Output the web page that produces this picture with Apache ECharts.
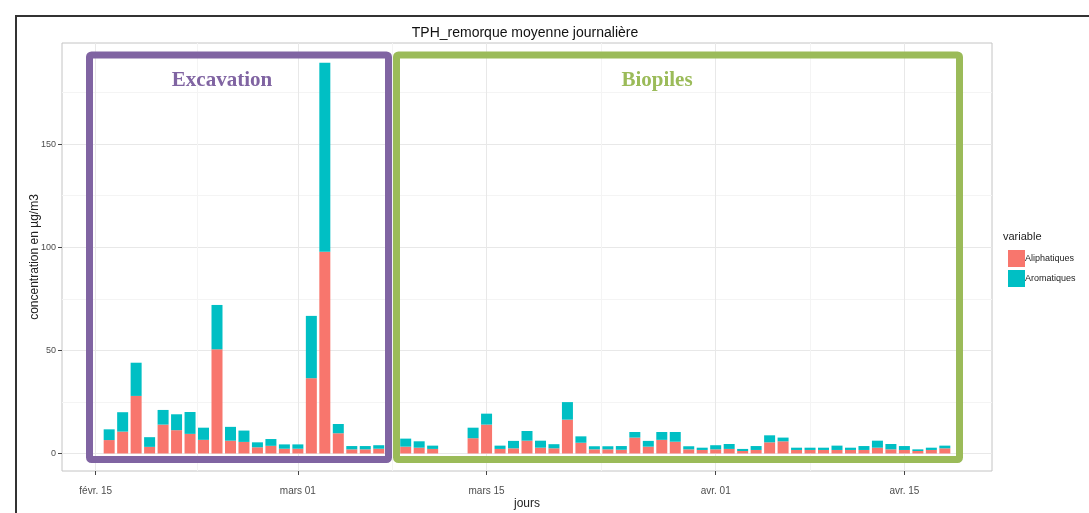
<!DOCTYPE html>
<html>
<head>
<meta charset="utf-8">
<title>TPH_remorque moyenne journalière</title>
<script src="https://cdn.jsdelivr.net/npm/echarts@6/dist/echarts.min.js"></script>
<style>
  html, body { margin: 0; padding: 0; background: #fff; }
  #chart { width: 1089px; height: 513px; }
</style>
</head>
<body>
<div id="chart"></div>
<script>
// moyennes journalières TPH remorque (µg/m3)
const jours = [
  '2016-02-16', '2016-02-17', '2016-02-18', '2016-02-19', '2016-02-20', '2016-02-21',
  '2016-02-22', '2016-02-23', '2016-02-24', '2016-02-25', '2016-02-26', '2016-02-27',
  '2016-02-28', '2016-02-29', '2016-03-01', '2016-03-02', '2016-03-03', '2016-03-04',
  '2016-03-05', '2016-03-06', '2016-03-07',
  '2016-03-09', '2016-03-10', '2016-03-11', '2016-03-14', '2016-03-15', '2016-03-16',
  '2016-03-17', '2016-03-18', '2016-03-19', '2016-03-20', '2016-03-21', '2016-03-22',
  '2016-03-23', '2016-03-24', '2016-03-25', '2016-03-26', '2016-03-27', '2016-03-28',
  '2016-03-29', '2016-03-30', '2016-03-31', '2016-04-01', '2016-04-02', '2016-04-03',
  '2016-04-04', '2016-04-05', '2016-04-06', '2016-04-07', '2016-04-08', '2016-04-09',
  '2016-04-10', '2016-04-11', '2016-04-12', '2016-04-13', '2016-04-14', '2016-04-15',
  '2016-04-16', '2016-04-17', '2016-04-18'
]
const aliphatiques = [
  6.5, 10.6, 27.9, 3.2, 14, 11.3,
  9.5, 6.6, 50.5, 6.2, 5.6, 3,
  3.7, 2.3, 2.3, 36.5, 97.8, 9.8,
  2, 2, 2.3,
  3.3, 2.8, 2.2, 7.4, 14, 2.2,
  2.5, 6.2, 2.8, 2.5, 16.4, 5.2,
  2, 2, 1.8, 7.7, 3.3, 6.6,
  5.7, 2, 1.7, 2, 2.2, 1.2,
  1.7, 5.4, 5.9, 1.7, 1.7, 1.7,
  1.7, 1.7, 1.7, 2.8, 2, 1.7,
  1.2, 1.7, 2.5
]
const aromatiques = [
  5.2, 9.4, 16.1, 4.7, 7.1, 7.7,
  10.6, 5.9, 21.5, 6.7, 5.5, 2.4,
  3.3, 2.1, 2.1, 30.2, 91.6, 4.5,
  1.6, 1.6, 1.7,
  3.9, 3.1, 1.6, 5.1, 5.3, 1.6,
  3.6, 4.7, 3.4, 2, 8.5, 3.1,
  1.5, 1.5, 1.8, 2.7, 2.8, 3.8,
  4.7, 1.5, 1.1, 2, 2.4, 1,
  1.9, 3.4, 1.8, 1.1, 1.1, 1.1,
  2.1, 1.1, 1.9, 3.4, 2.6, 1.9,
  0.8, 1.1, 1.3
]
const tickDates = ['2016-02-15', '2016-03-01', '2016-03-15', '2016-04-01', '2016-04-15']
const tickLabels = ['févr. 15', 'mars 01', 'mars 15', 'avr. 01', 'avr. 15']
const minorDates = ['2016-02-22T12:00', '2016-03-08', '2016-03-23T12:00', '2016-04-08']
const yTicks = [0, 50, 100, 150]
const yMinor = [25, 75, 125, 175]

// jours depuis le 15 février
const origin = Date.parse('2016-02-15T00:00Z')
const DAY = 86400000
const dayIdx = d => (Date.parse(d.length > 10 ? d + 'Z' : d + 'T00:00Z') - origin) / DAY

const xMin = -2.5, xMax = 66.5, yMin = -8.5, yMax = 199

const xMajor = tickDates.map(dayIdx)
const xMinor = minorDates.map(dayIdx)
const labelOf = {}
xMajor.forEach((v, i) => { labelOf[v] = tickLabels[i] })

// axe catégoriel journalier caché (13 févr. -> 21 avr.) pour empiler les barres
const allDays = []
for (let k = xMin + 0.5; k <= xMax - 0.5; k++) {
  allDays.push(new Date(origin + k * DAY).toISOString().slice(0, 10))
}
const byDay = (vals) => {
  const m = {}
  jours.forEach((d, i) => { m[d] = vals[i] })
  return allDays.map(d => (d in m ? m[d] : '-'))
}

const chart = echarts.init(document.getElementById('chart'))
const font = '"Liberation Sans", Arial, sans-serif'
const serif = '"Liberation Serif", "Times New Roman", serif'

const option = {
  animation: false,
  textStyle: { fontFamily: font },
  title: {
    text: 'TPH_remorque moyenne journalière',
    left: 520,
    textAlign: 'center',
    top: 21,
    textStyle: { fontSize: 14, fontWeight: 'normal', color: '#111', fontFamily: font }
  },
  legend: {
    orient: 'vertical',
    left: 1003,
    top: 245,
    itemWidth: 17,
    itemHeight: 17,
    itemGap: 3,
    icon: 'rect',
    data: ['Aliphatiques', 'Aromatiques'],
    textStyle: { fontSize: 9, color: '#222', padding: [0, 0, 0, -5] }
  },
  grid: {
    left: 62, right: 97, top: 43, bottom: 42,
    outerBoundsMode: 'none',
    show: true, borderColor: '#c4c4c4', borderWidth: 1, backgroundColor: '#fff'
  },
  xAxis: [
    {
      type: 'value', min: xMin, max: xMax,
      name: 'jours', nameLocation: 'middle', nameGap: 27, nameMoveOverlap: false,
      nameTextStyle: { fontSize: 12, color: '#222' },
      axisLine: { show: false, onZero: false },
      axisTick: { show: true, length: 4, customValues: xMajor, lineStyle: { color: '#444' } },
      axisLabel: {
        customValues: xMajor, margin: 15, fontSize: 10, color: '#4d4d4d',
        formatter: v => labelOf[v] || ''
      },
      splitLine: { show: true, lineStyle: { color: '#e8e8e8', width: 1 } }
    },
    {
      type: 'value', min: xMin, max: xMax, position: 'bottom',
      axisLine: { show: false, onZero: false },
      axisTick: { show: false, customValues: xMinor },
      axisLabel: { show: false, customValues: xMinor },
      splitLine: { show: true, lineStyle: { color: '#f4f4f4', width: 1 } }
    },
    {
      type: 'category', data: allDays, position: 'bottom', show: false,
      axisLine: { onZero: false }
    }
  ],
  yAxis: [
    {
      type: 'value', min: yMin, max: yMax,
      name: 'concentration en µg/m3', nameLocation: 'middle', nameGap: 21, nameMoveOverlap: false,
      nameTextStyle: { fontSize: 12, color: '#222' },
      axisLine: { show: false, onZero: false },
      axisTick: { show: true, length: 4, customValues: yTicks, lineStyle: { color: '#444' } },
      axisLabel: { customValues: yTicks, margin: 6, fontSize: 9, color: '#4d4d4d' },
      splitLine: { show: true, lineStyle: { color: '#e8e8e8', width: 1 } }
    },
    {
      type: 'value', min: yMin, max: yMax, position: 'left',
      axisLine: { show: false, onZero: false },
      axisTick: { show: false, customValues: yMinor },
      axisLabel: { show: false, customValues: yMinor },
      splitLine: { show: true, lineStyle: { color: '#f4f4f4', width: 1 } }
    }
  ],
  series: [
    {
      name: 'Aliphatiques', type: 'bar', stack: 'tph', barWidth: 11, xAxisIndex: 2,
      itemStyle: { color: '#F8766D' },
      data: byDay(aliphatiques)
    },
    {
      name: 'Aromatiques', type: 'bar', stack: 'tph', barWidth: 11, xAxisIndex: 2,
      itemStyle: { color: '#00BFC4' },
      data: byDay(aromatiques)
    }
  ],
  graphic: [
    // cadre extérieur
    { type: 'polyline', shape: { points: [[16, 513], [16, 16], [1089, 16]] }, style: { stroke: '#333', lineWidth: 2, fill: null } },
    // légende : titre
    { type: 'text', left: 1003, top: 231, style: { text: 'variable', fontSize: 11, fill: '#222', fontFamily: font } },
    // zones Excavation / Biopiles
    { type: 'rect', shape: { x: 89.5, y: 55, width: 299, height: 404.5, r: 2 }, style: { stroke: '#8064A2', lineWidth: 7, fill: null }, z: 100 },
    { type: 'rect', shape: { x: 396.5, y: 55, width: 563, height: 404.5, r: 2 }, style: { stroke: '#9BBB59', lineWidth: 7, fill: null }, z: 100 },
    { type: 'text', x: 222, y: 81, style: { text: 'Excavation', fontSize: 21, fontWeight: 'bold', fontFamily: serif, fill: '#8064A2', align: 'center', verticalAlign: 'middle' }, z: 100 },
    { type: 'text', x: 657, y: 81, style: { text: 'Biopiles', fontSize: 21, fontWeight: 'bold', fontFamily: serif, fill: '#9BBB59', align: 'center', verticalAlign: 'middle' }, z: 100 }
  ]
}

chart.setOption(option)
window.addEventListener('resize', () => chart.resize())
</script>
</body>
</html>
